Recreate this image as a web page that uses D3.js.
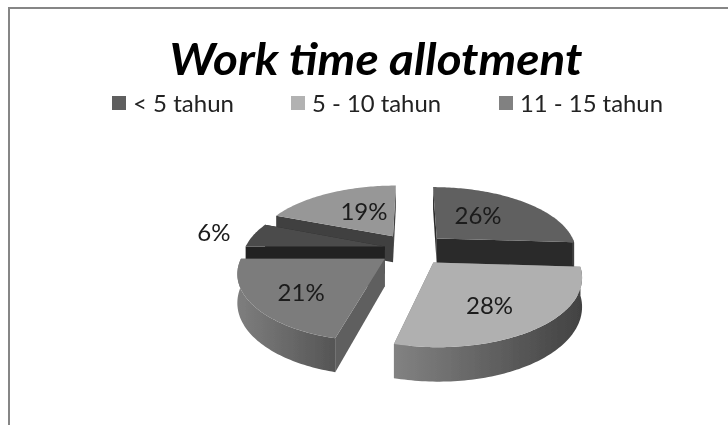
<!DOCTYPE html>
<html><head><meta charset="utf-8">
<script src="https://cdn.jsdelivr.net/npm/d3@7"></script>
<style>html,body{margin:0;padding:0;background:#fff}svg{display:block}text{font-family:Lato,sans-serif}</style>
</head><body><svg id="c" width="728" height="425"></svg>
<script>
const title = "Work time allotment";
const legendLabels = ["< 5 tahun", "5 - 10 tahun", "11 - 15 tahun"];
const legendColors = ["#5f5f5f", "#b2b2b2", "#818181"];
const values = [26, 28, 21, 6, 19];
const labels = ["26%", "28%", "21%", "6%", "19%"];
const topColors = ["#606060", "#b0b0b0", "#7c7c7c", "#4b4b4b", "#979797"];
const faceColors = ["#2a2a2a", "#777777", "#5e5e5e", "#232323", "#3f3f3f"];
const wallFrom = ["#555555", "#828282", "#7e7e7e", "#3a3a3a", "#555555"];
const wallTo = ["#333333", "#424242", "#555555", "#2a2a2a", "#444444"];
const explode = [0.25, 0.25, 0.24, 0.2, 0.25];
const drawOrder = [4, 3, 0, 2, 1];

const svg = d3.select("#c");
const defs = svg.append("defs");
defs.append("filter").attr("id","soft").append("feGaussianBlur").attr("stdDeviation",0.45);
const root = svg.append("g").attr("filter","url(#soft)");

// frame
root.append("path").attr("d", d3.line()([[9,425],[9,8],[728,8]]))
  .attr("fill","none").attr("stroke","#868686").attr("stroke-width",2);

// title
root.append("text").attr("x",376).attr("y",75).attr("text-anchor","middle")
  .attr("font-size",43).attr("font-weight",700).attr("font-style","italic")
  .attr("textLength",413).attr("lengthAdjust","spacingAndGlyphs").attr("fill","#000").text(title);

// legend
const legendX = d3.scaleOrdinal().domain(legendLabels).range([112,291,499]);
const legendW = d3.scaleOrdinal().domain(legendLabels).range([101,129,143]);
const lg = root.selectAll("g.lg").data(legendLabels).join("g").attr("class","lg")
  .attr("transform", d => `translate(${legendX(d)},96)`);
lg.append("rect").attr("width",14).attr("height",14).attr("fill",(d,i)=>legendColors[i]);
lg.append("text").attr("x",21).attr("y",15.5).attr("font-size",24).attr("fill","#222")
  .attr("textLength",d=>legendW(d)).attr("lengthAdjust","spacingAndGlyphs").text(d=>d);

// projection of the tilted disc
const R = 140, Ry = 64, K = 0.18, depth = 27, cx = 412, cy = 249;
const sx = d3.scaleLinear().domain([-1,1]).range([cx-R,cx+R]);
const sy = d3.scaleLinear().domain([-1,1]).range([cy-Ry,cy+Ry]);
const project = (u,v,z=0) => { const w = 1-K*v;
  return [sx(u/w), sy(v/w) + z*depth/w]; };

const pie = d3.pie().sort(null).value(d=>d)(values);
const slices = pie.map((p,i)=>{
  const mid = (p.startAngle+p.endAngle)/2, e = explode[i];
  const ox = e*Math.sin(mid), oy = -e*Math.cos(mid);
  const pt = (a,r,z=0) => project(ox+r*Math.sin(a), oy-r*Math.cos(a), z);
  return {i,p,mid,pt};
});
const line = d3.line();
const angles = (a,b) => { const n = Math.max(2,Math.ceil((b-a)/0.02));
  return d3.range(n+1).map(k=>a+(b-a)*k/n); };

defs.selectAll("linearGradient").data(slices).join("linearGradient")
  .attr("id",d=>"w"+d.i).attr("x1",0).attr("x2",1).attr("y1",0).attr("y2",0)
  .call(g=>{ g.append("stop").attr("offset",0).attr("stop-color",d=>wallFrom[d.i]);
             g.append("stop").attr("offset",1).attr("stop-color",d=>wallTo[d.i]); });

drawOrder.forEach(i=>{
  const s = slices[i], g = root.append("g");
  const a0 = s.p.startAngle, a1 = s.p.endAngle;
  [a0,a1].forEach(a=>{
    const inner = s.pt(a,0), outer = s.pt(a,1);
    g.append("path").attr("d",line([inner,outer,s.pt(a,1,1),s.pt(a,0,1)])+"Z")
      .attr("fill",faceColors[i]);
  });
  const f0 = Math.max(a0,Math.PI/2), f1 = Math.min(a1,Math.PI*1.5);
  if (f1>f0) {
    const as = angles(f0,f1);
    const pts = as.map(a=>s.pt(a,1)).concat(as.slice().reverse().map(a=>s.pt(a,1,1)));
    g.append("path").attr("d",line(pts)+"Z").attr("fill",`url(#w${i})`);
  }
  const rim = angles(a0,a1).map(a=>s.pt(a,1));
  g.append("path").attr("d",line([s.pt(0,0),...rim])+"Z").attr("fill",topColors[i]);
});

// data labels: placed along each slice's mid-angle, with a per-slice nudge
const labelR = [0.522, 0.655, 0.694, 1.305, 0.5];
const labelTurn = [-0.113, 0.1, -0.075, -0.015, 0.09];
const labelXY = d => d.pt(d.mid+labelTurn[d.i],labelR[d.i]);
root.selectAll("text.v").data(slices).join("text").attr("class","v")
  .attr("text-anchor","middle").attr("font-size",24).attr("fill","#1a1a1a")
  .attr("x",d=>labelXY(d)[0])
  .attr("y",d=>labelXY(d)[1]+8)
  .text(d=>labels[d.i]);
</script></body></html>
